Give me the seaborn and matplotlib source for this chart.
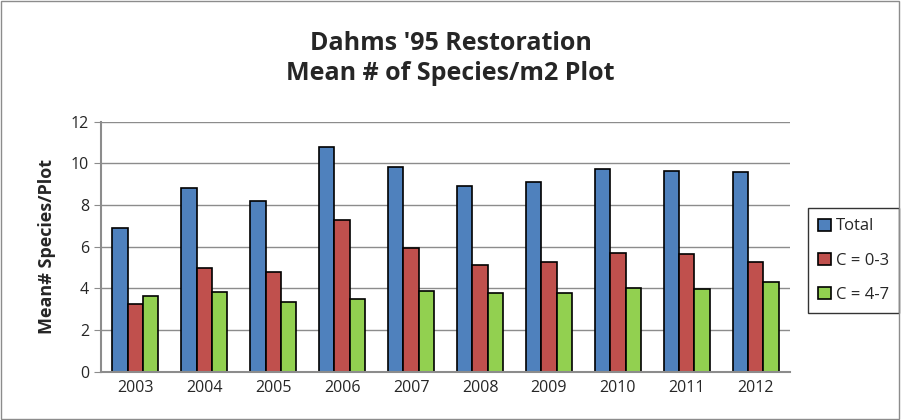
# Dahms '95 - grafica de barras agrupadas con seaborn

import pandas as pd
import seaborn as sns
import matplotlib.pyplot as plt
from matplotlib.patches import Rectangle

# datos
years = ["2003", "2004", "2005", "2006", "2007", "2008", "2009", "2010", "2011", "2012"]
total = [6.91, 8.83, 8.18, 10.77, 9.84, 8.93, 9.09, 9.75, 9.62, 9.57]
c_0_3 = [3.25, 4.99, 4.80, 7.28, 5.95, 5.14, 5.28, 5.68, 5.63, 5.25]
c_4_7 = [3.65, 3.84, 3.36, 3.49, 3.89, 3.79, 3.76, 4.03, 3.98, 4.32]
series = ["Total", "C = 0-3", "C = 4-7"]
colors = ["#4F81BD", "#C0504D", "#92D050"]

# tabla larga para seaborn
df = pd.DataFrame({
    "year": years * 3,
    "value": total + c_0_3 + c_4_7,
    "serie": [series[0]] * 10 + [series[1]] * 10 + [series[2]] * 10,
})

sns.set_style("white")
plt.rcParams["font.family"] = ["Open Sans", "DejaVu Sans"]

fig = plt.figure(figsize=(9.01, 4.2), dpi=100)
ax = fig.add_axes([0.112, 0.115, 0.765, 0.595])

sns.barplot(data=df, x="year", y="value", hue="serie", order=years,
            hue_order=series, palette=colors, width=0.67,
            edgecolor="black", linewidth=1.2, saturation=1, ax=ax)

ax.set_ylim(0, 12)
ax.set_yticks(range(0, 13, 2))
ax.set_xlim(-0.5, 9.5)
ax.yaxis.grid(True, color="#8c8c8c", linewidth=1)
ax.set_axisbelow(True)
for s in ["top", "right"]:
    ax.spines[s].set_visible(False)
ax.spines["left"].set_color("#8c8c8c")
ax.spines["bottom"].set_color("#8c8c8c")
ax.spines["left"].set_linewidth(1.5)
ax.spines["bottom"].set_linewidth(1.5)

# marcas de x entre categorias
ax.set_xticks([i for i in range(10)])
ax.set_xticks([i + 0.5 for i in range(-1, 10)], minor=True)
ax.tick_params(axis="x", which="major", length=0, labelsize=11.5, pad=6)
ax.tick_params(axis="x", which="minor", length=5, color="#8c8c8c", direction="out")
ax.tick_params(axis="y", length=5, color="#8c8c8c", direction="out", labelsize=11.5, left=True)

ax.set_xlabel("")
ax.set_ylabel("Mean# Species/Plot", fontsize=13, fontweight="bold", labelpad=11)

fig.suptitle("Dahms '95 Restoration\nMean # of Species/m2 Plot", fontsize=18,
             fontweight="bold", y=0.925, linespacing=1.25)

ax.legend(loc="center left", bbox_to_anchor=(0.897, 0.379), bbox_transform=fig.transFigure,
          borderaxespad=0, frameon=True, fancybox=False, edgecolor="black", fontsize=12,
          handlelength=0.75, handleheight=0.75, labelspacing=1.1, borderpad=0.6,
          handletextpad=0.3)
ax.get_legend().get_frame().set_linewidth(1)

# borde exterior del grafico
fig.patches.append(Rectangle((0.001, 0.002), 0.997, 0.996, transform=fig.transFigure,
                             fill=False, edgecolor="#8c8c8c", linewidth=1))

plt.savefig("out.png", dpi=100)
